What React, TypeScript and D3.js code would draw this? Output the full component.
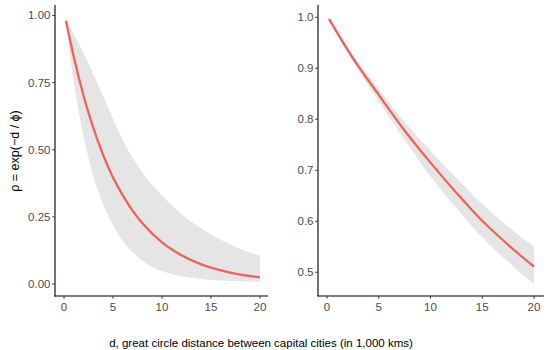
import React from "react";
import * as d3 from "d3";

// distances (1,000 km) at which values were read
const dLeft = [0.2, 1, 2, 3, 4, 5, 6, 7, 8, 10, 12, 14, 16, 18, 20];
const meanLeft = [0.98, 0.845, 0.7, 0.58, 0.48, 0.397, 0.33, 0.273, 0.226, 0.155, 0.107, 0.073, 0.051, 0.035, 0.025];
const upperLeft = [0.99, 0.93, 0.86, 0.78, 0.7, 0.615, 0.535, 0.47, 0.415, 0.33, 0.26, 0.207, 0.165, 0.13, 0.105];
const lowerLeft = [0.97, 0.75, 0.55, 0.4, 0.295, 0.22, 0.16, 0.118, 0.087, 0.048, 0.029, 0.019, 0.013, 0.01, 0.008];

const dRight = [0.2, 2.5, 5, 7.5, 10, 12.5, 15, 17.5, 20];
const meanRight = [0.9967, 0.92, 0.848, 0.778, 0.715, 0.656, 0.601, 0.554, 0.511];
const upperRight = [0.998, 0.926, 0.859, 0.795, 0.738, 0.685, 0.634, 0.59, 0.55];
const lowerRight = [0.994, 0.915, 0.835, 0.76, 0.688, 0.626, 0.568, 0.52, 0.477];

const xTicks = [0, 5, 10, 15, 20];
const yTicksLeft = [0, 0.25, 0.5, 0.75, 1];
const yTicksRight = [0.5, 0.6, 0.7, 0.8, 0.9, 1.0];

const xTitle = "d, great circle distance between capital cities (in 1,000 kms)";
const yTitle = "ρ = exp(−d / ϕ)";

const LINE = "#F2605A";
const BAND = "#E5E5E5";
const FONT = "Liberation Sans, Arial, sans-serif";

type PanelProps = {
  d: number[];
  mean: number[];
  upper: number[];
  lower: number[];
  xDomain: [number, number];
  yDomain: [number, number];
  left: number;
  right: number;
  top: number;
  bottom: number;
  yTicks: number[];
  yFmt: (v: number) => string;
};

function Panel(p: PanelProps) {
  const x = d3.scaleLinear().domain(p.xDomain).range([p.left, p.right]);
  const y = d3.scaleLinear().domain(p.yDomain).range([p.bottom, p.top]);
  const idx = p.d.map((_, i) => i);
  const area = d3
    .area<number>()
    .x((i) => x(p.d[i]))
    .y0((i) => y(p.lower[i]))
    .y1((i) => y(p.upper[i]))
    .curve(d3.curveMonotoneX);
  const line = d3
    .line<number>()
    .x((i) => x(p.d[i]))
    .y((i) => y(p.mean[i]))
    .curve(d3.curveMonotoneX);
  return (
    <g>
      <path d={area(idx) || ""} fill={BAND} />
      <path d={line(idx) || ""} fill="none" stroke={LINE} strokeWidth={2.3} />
      <line x1={p.left} x2={p.left} y1={p.top} y2={p.bottom + 0.5} stroke="#000" strokeWidth={1.1} />
      <line x1={p.left - 0.5} x2={p.right} y1={p.bottom} y2={p.bottom} stroke="#000" strokeWidth={1.1} />
      {p.yTicks.map((t) => (
        <g key={"y" + t}>
          <line x1={p.left - 2.7} x2={p.left} y1={y(t)} y2={y(t)} stroke="#333" strokeWidth={1} />
          <text
            x={p.left - 4.5}
            y={y(t)}
            dy="0.35em"
            textAnchor="end"
            fontSize={11.5}
            fill="#4D4D4D"
            fontFamily={FONT}
          >
            {p.yFmt(t)}
          </text>
        </g>
      ))}
      {xTicks.map((t) => (
        <g key={"x" + t}>
          <line x1={x(t)} x2={x(t)} y1={p.bottom} y2={p.bottom + 2.7} stroke="#333" strokeWidth={1} />
          <text
            x={x(t)}
            y={p.bottom + 10.7}
            dy="0.35em"
            textAnchor="middle"
            fontSize={11.5}
            fill="#4D4D4D"
            fontFamily={FONT}
          >
            {t}
          </text>
        </g>
      ))}
    </g>
  );
}

export default function App() {
  return (
    <svg
      width={550}
      height={350}
      style={{ position: "absolute", left: 0, top: 0, background: "#fff" }}
    >
      <rect width={550} height={350} fill="#fff" />
      <Panel
        d={dLeft}
        mean={meanLeft}
        upper={upperLeft}
        lower={lowerLeft}
        xDomain={[-0.92, 20.82]}
        yDomain={[-0.0447, 1.039]}
        left={55}
        right={268}
        top={5}
        bottom={296}
        yTicks={yTicksLeft}
        yFmt={d3.format(".2f")}
      />
      <Panel
        d={dRight}
        mean={meanRight}
        upper={upperRight}
        lower={lowerRight}
        xDomain={[-0.87, 20.97]}
        yDomain={[0.4535, 1.0241]}
        left={318}
        right={544}
        top={5}
        bottom={296}
        yTicks={yTicksRight}
        yFmt={d3.format(".1f")}
      />
      <text
        x={261}
        y={342.7}
        dy="0.35em"
        textAnchor="middle"
        fontSize={11.5}
        fill="#000"
        fontFamily={FONT}
      >
        {xTitle}
      </text>
      <text
        transform="translate(15,151) rotate(-90)"
        dy="0.35em"
        textAnchor="middle"
        fontSize={12.5}
        fill="#000"
        fontFamily={FONT}
      >
        {yTitle}
      </text>
    </svg>
  );
}
